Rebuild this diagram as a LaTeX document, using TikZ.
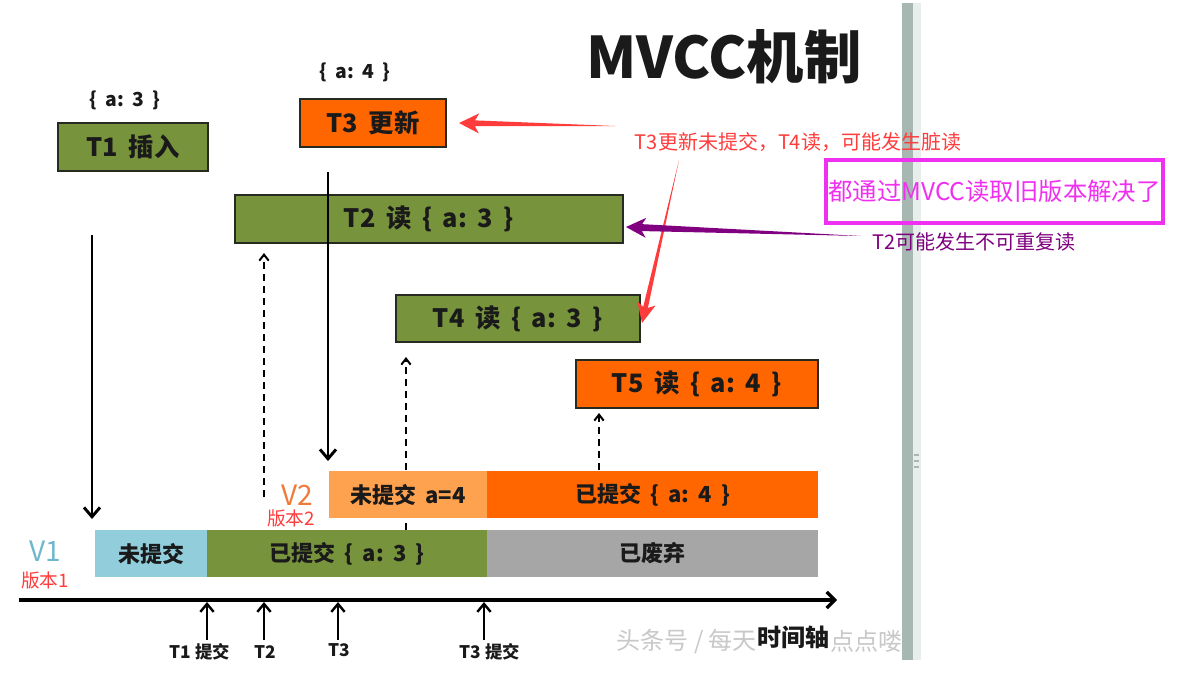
\documentclass[tikz,border=0pt]{standalone}
\usepackage{fontspec}
\newfontfamily\cjk{Noto Sans CJK SC}
\usetikzlibrary{arrows.meta,calc}
\definecolor{tgreen}{HTML}{77933C}
\definecolor{torange}{HTML}{FF6600}
\definecolor{lorange}{HTML}{FFA24F}
\definecolor{lblue}{HTML}{92CDDC}
\definecolor{dgray}{HTML}{A6A6A6}
\definecolor{boxline}{HTML}{262A20}
\definecolor{txt}{HTML}{1A1A1A}
\definecolor{vone}{HTML}{6FB7CB}
\definecolor{vtwo}{HTML}{F07A3A}
\definecolor{annred}{HTML}{FF3C3C}
\definecolor{annmag}{HTML}{F030F0}
\definecolor{annpur}{HTML}{800080}
\definecolor{barc}{HTML}{A7B7B1}
\definecolor{barl}{HTML}{E8EEEC}
\definecolor{wmark}{HTML}{C8C8C8}
\newcommand\gp{\hspace{0.42em}}
\newcommand\wedgearrow[6]{% color, tail, tip, head length, head half width, shaft half width
  \fill[#1] (#2) -- ($(#3)!0.8*#4!(#2)!#6!90:(#2)$) -- ($(#3)!#4!(#2)!#5!90:(#2)$) -- (#3)
    -- ($(#3)!#4!(#2)!#5!-90:(#2)$) -- ($(#3)!0.8*#4!(#2)!#6!-90:(#2)$) -- cycle;}
\begin{document}
\begin{tikzpicture}[x=0.75pt,y=-0.75pt,font=\cjk,
  tbox/.style={draw=boxline,line width=1.5pt,inner sep=0pt,minimum height=36pt,text=txt,font=\cjk\bfseries\fontsize{19}{22}\selectfont},
  bar/.style={inner sep=0pt,minimum height=35.25pt,text=txt,font=\cjk\bfseries\fontsize{16.5}{20}\selectfont},
  val/.style={text=txt,font=\cjk\bfseries\fontsize{14.5}{17}\selectfont},
  ticklab/.style={text=txt,font=\cjk\bfseries\fontsize{13}{15}\selectfont},
  solidarrow/.style={draw=black,line width=2.2pt,-{Straight Barb[length=7pt,width=12pt,line width=2.2pt]}},
  dasharrow/.style={draw=black,line width=1.5pt,dash pattern=on 5.5pt off 3.5pt,-{Straight Barb[length=4.5pt,width=7pt,line width=1.5pt]}},
  tickarrow/.style={draw=black,line width=1.8pt,-{Straight Barb[length=6pt,width=10pt,line width=1.8pt]}},
  vlab/.style={font=\cjk\fontsize{21}{24}\selectfont},
  verlab/.style={text=annred,font=\cjk\fontsize{14}{16}\selectfont},
  wm/.style={text=wmark,font=\cjk\fontsize{18}{20}\selectfont}]
\useasboundingbox (0,0) rectangle (1188,693);
\fill[white] (0,0) rectangle (1188,693);
% right screenshot bar
\fill[barc] (902,3) rectangle (913,660);
\fill[barl] (913,3) rectangle (921,660);
\foreach \yy in {455,461,467} \draw[gray!60,line width=0.8pt] (914,\yy) -- (919,\yy);
% title
\node[font=\cjk\bfseries\fontsize{43}{48}\selectfont,text=txt] (title) at (724,57) {MVCC机制};
% dashed reads (behind bars)
\coordinate (d1s) at (264,497); \coordinate (d1e) at (264,253);
\coordinate (d2s) at (406,530); \coordinate (d2e) at (406,357);
\coordinate (d3s) at (599,470); \coordinate (d3e) at (599,413);
\draw[dasharrow] (d1s) -- (d1e);
\draw[dasharrow] (d2s) -- (d2e);
\draw[dasharrow] (d3s) -- (d3e);
% transaction boxes
\node[tbox,fill=tgreen,minimum width=112.5pt] (t1) at (133,147) {T1\gp 插入};
\node[tbox,fill=torange,minimum width=109.5pt] (t3) at (373,123) {T3\gp 更新};
\node[tbox,fill=tgreen,minimum width=291pt] (t2) at (429,219) {T2\gp 读\gp\{\gp a:\gp 3\gp\}};
\node[tbox,fill=tgreen,minimum width=183pt,minimum height=35.25pt] (t4) at (518,318.5) {T4\gp 读\gp\{\gp a:\gp 3\gp\}};
\node[tbox,fill=torange,minimum width=181.5pt] (t5) at (697,384) {T5\gp 读\gp\{\gp a:\gp 4\gp\}};
\node[val] (v1val) at (125,100) {\{\gp a:\gp 3\gp\}};
\node[val] (v3val) at (355,72) {\{\gp a:\gp 4\gp\}};
% version bars
\node[bar,fill=lorange,minimum width=118.5pt] (v2a) at (408,494.5) {未提交\gp a=4};
\node[bar,fill=torange,minimum width=248.25pt] (v2b) at (652.5,494.5) {已提交\gp\{\gp a:\gp 4\gp\}};
\node[bar,fill=lblue,minimum width=84pt] (v1a) at (151,553.5) {未提交};
\node[bar,fill=tgreen,minimum width=210pt] (v1b) at (347,553.5) {已提交\gp\{\gp a:\gp 3\gp\}};
\node[bar,fill=dgray,minimum width=248.25pt] (v1c) at (652.5,553.5) {已废弃};
\node[vlab,text=vone] (lv1) at (45,551) {V1};
\node[verlab] (bb1) at (45,580) {版本1};
\node[vlab,text=vtwo] (lv2) at (297,495) {V2};
\node[verlab] (bb2) at (291,518) {版本2};
% write arrows
\coordinate (a1s) at (92,235); \coordinate (a1e) at (92,519);
\coordinate (a3s) at (328,172); \coordinate (a3e) at (328,461);
\draw[solidarrow] (a1s) -- (a1e);
\draw[solidarrow] (a3s) -- (a3e);
% time axis
\coordinate (ax0) at (19,600); \coordinate (ax1) at (837,600);
\draw[line width=3pt,-{Straight Barb[length=6pt,width=12pt,line width=2.5pt]}] (ax0) -- (ax1);
\foreach \xx/\nm in {207/ta,264/tb,338/tc,484/td}{
  \coordinate (\nm s) at (\xx,640); \coordinate (\nm e) at (\xx,602);
  \draw[tickarrow] (\nm s) -- (\nm e);}
\node[ticklab] (l1) at (200,652) {T1 提交};
\node[ticklab] (l2) at (265,652) {T2};
\node[ticklab] (l3) at (339,650) {T3};
\node[ticklab] (l4) at (490,652) {T3 提交};
\node[wm,anchor=west] (wm1) at (612,641) {头条号 / 每天};
\node[wm,anchor=east] (wm2) at (907,641) {点点喽};
\node[text=txt,font=\cjk\bfseries\fontsize{18}{20}\selectfont] (axlab) at (793,637) {时间轴};
% annotations
\node[text=annred,font=\cjk\fontsize{15}{18}\selectfont] (ann1) at (798,142) {T3更新未提交，T4读，可能发生脏读};
\node[draw=annmag,line width=2.4pt,inner sep=0pt,minimum width=252.75pt,minimum height=47.25pt,text=annmag,font=\cjk\fontsize{18.3}{22}\selectfont] (ann2) at (994.5,191.5) {都通过MVCC读取旧版本解决了};
\node[text=annpur,font=\cjk\fontsize{15}{18}\selectfont] (ann3) at (974,242) {T2可能发生不可重复读};
\coordinate (r1s) at (615,126); \coordinate (r1e) at (459,123);
\coordinate (r2s) at (679,160); \coordinate (r2e) at (642,323);
\coordinate (p1s) at (861,236); \coordinate (p1e) at (626,227);
\wedgearrow{annred}{r1s}{r1e}{15pt}{7.5pt}{2.2pt}
\wedgearrow{annred}{r2s}{r2e}{15pt}{7pt}{1.8pt}
\wedgearrow{annpur}{p1s}{p1e}{15pt}{7.5pt}{2.6pt}
\end{tikzpicture}
\end{document}
